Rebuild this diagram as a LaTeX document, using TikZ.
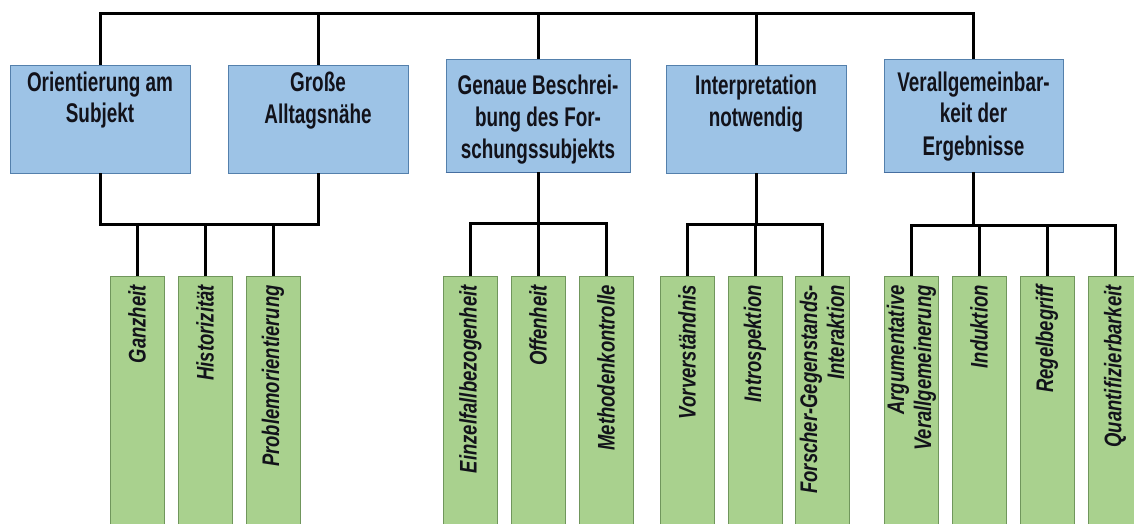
\documentclass[tikz,border=0pt]{standalone}
\usepackage{fontspec}
\newfontfamily\headfont[FakeStretch=0.70]{Liberation Sans}
\newfontfamily\leaffont[FakeStretch=0.77]{Liberation Sans}
\definecolor{headfill}{RGB}{157,195,230}
\definecolor{headedge}{RGB}{84,128,172}
\definecolor{headshade}{RGB}{70,110,160}
\definecolor{leaffill}{RGB}{169,209,142}
\definecolor{leafedge}{RGB}{112,150,92}
\definecolor{ink}{RGB}{18,18,26}

\begin{document}
\begin{tikzpicture}[x=1pt,y=-1pt,
  head/.style={draw=headedge, line width=0.8pt, fill=headfill,
    minimum width=180pt, minimum height=108pt, inner sep=0pt},
  headtext/.style={anchor=base, align=center, inner sep=0pt, text=ink,
    font=\headfont\bfseries\fontsize{27}{32}\selectfont},
  leaf/.style={draw=leafedge, line width=0.8pt, fill=leaffill,
    minimum width=54pt, minimum height=270pt, inner sep=0pt, anchor=north},
  leaftext/.style={rotate=90, anchor=east, align=right, inner sep=0pt, text=ink,
    font=\leaffont\bfseries\itshape\fontsize{24}{27}\selectfont},
  conn/.style={draw=black, line width=3pt, line join=miter}]

\useasboundingbox (0,0) rectangle (1134,524);
\clip (0,0) rectangle (1134,524);
\fill[white] (0,0) rectangle (1134,524);

% upper level: the five criteria
\node[head] (b1) at (100,119) {};
\node[head] (b2) at (318,119) {};
\node[head, minimum width=184pt, minimum height=113pt] (b3) at (538,115.5) {};
\node[head] (b4) at (756,119) {};
\node[head, minimum width=179pt, minimum height=113pt] (b5) at (973.5,115.5) {};
\draw[headshade, line width=1.6pt] (b3.south west) -- (b3.south east);
\draw[headshade, line width=1.6pt] (b5.south west) -- (b5.south east);

% the base anchor sits on the last line of each label
\node[headtext] (t1) at (100,123) {Orientierung am\\Subjekt};
\node[headtext] (t2) at (318,124) {Große\\Alltagsnähe};
\node[headtext] (t3) at (538,158) {Genaue Beschrei-\\bung des For-\\schungssubjekts};
\node[headtext] (t4) at (756,126) {Interpretation\\notwendig};
\node[headtext] (t5) at (973.5,155) {Verallgemeinbar-\\keit der\\Ergebnisse};

% lower level: the postulates
\node[leaf] (g1) at (137,276) {};
\node[leaf] (g2) at (205,276) {};
\node[leaf] (g3) at (273,276) {};
\node[leaf] (g4) at (470.5,276) {};
\node[leaf] (g5) at (538,276) {};
\node[leaf] (g6) at (606,276) {};
\node[leaf] (g7) at (687,276) {};
\node[leaf] (g8) at (755,276) {};
\node[leaf] (g9) at (822,276) {};
\node[leaf] (g10) at (911.5,276) {};
\node[leaf] (g11) at (979,276) {};
\node[leaf] (g12) at (1047,276) {};
\node[leaf] (g13) at (1115,276) {};

\node[leaftext] (l1) at ([yshift=-9pt]g1.north) {Ganzheit};
\node[leaftext] (l2) at ([yshift=-9pt]g2.north) {Historizität};
\node[leaftext] (l3) at ([yshift=-9pt]g3.north) {Problemorientierung};
\node[leaftext] (l4) at ([yshift=-9pt]g4.north) {Einzelfallbezogenheit};
\node[leaftext] (l5) at ([yshift=-9pt]g5.north) {Offenheit};
\node[leaftext] (l6) at ([yshift=-9pt]g6.north) {Methodenkontrolle};
\node[leaftext] (l7) at ([yshift=-9pt]g7.north) {Vorverständnis};
\node[leaftext] (l8) at ([yshift=-9pt]g8.north) {Introspektion};
\node[leaftext] (l9) at ([yshift=-9pt]g9.north) {Forscher-Gegenstands-\\Interaktion};
\node[leaftext] (l10) at ([yshift=-9pt]g10.north) {Argumentative\\Verallgemeinerung};
\node[leaftext] (l11) at ([yshift=-9pt]g11.north) {Induktion};
\node[leaftext] (l12) at ([yshift=-9pt]g12.north) {Regelbegriff};
\node[leaftext] (l13) at ([yshift=-9pt]g13.north) {Quantifizierbarkeit};

% top bus
\coordinate (top) at (0,14);
\draw[conn] (b1.north) -- (b1.north |- top) -- (b5.north |- top) -- (b5.north);
\foreach \b in {b2,b3,b4} \draw[conn] (\b.north) -- (\b.north |- top);

% group 1: first two criteria share three postulates
\coordinate (busA) at (0,224);
\draw[conn] (b1.south) -- (b1.south |- busA) -- (b2.south |- busA) -- (b2.south);
\foreach \g in {g1,g2,g3} \draw[conn] (\g.north) -- (\g.north |- busA);

% group 2
\coordinate (busB) at (0,223);
\draw[conn] (b3.south) -- (b3.south |- busB);
\draw[conn] (g4.north) -- (g4.north |- busB) -- (g6.north |- busB) -- (g6.north);
\draw[conn] (g5.north) -- (g5.north |- busB);

% group 3
\coordinate (busC) at (0,224);
\draw[conn] (b4.south) -- (b4.south |- busC);
\draw[conn] (g7.north) -- (g7.north |- busC) -- (g9.north |- busC) -- (g9.north);
\draw[conn] (g8.north) -- (g8.north |- busC);

% group 4
\coordinate (busD) at (0,225);
\draw[conn] (b5.south) -- (b5.south |- busD);
\draw[conn] (g10.north) -- (g10.north |- busD) -- (g13.north |- busD) -- (g13.north);
\foreach \g in {g11,g12} \draw[conn] (\g.north) -- (\g.north |- busD);
\end{tikzpicture}
\end{document}
